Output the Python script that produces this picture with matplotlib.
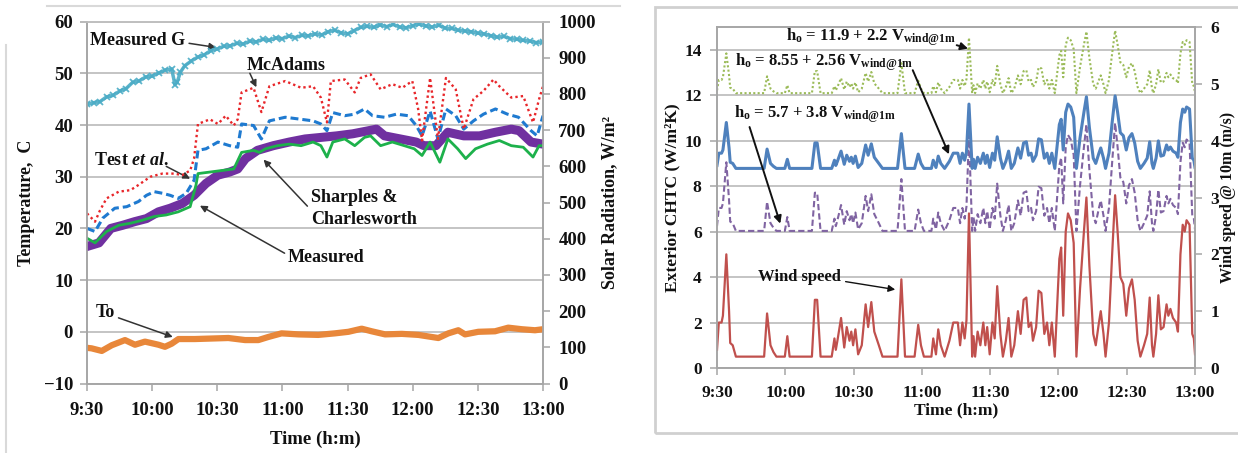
import matplotlib
matplotlib.use("Agg")
import matplotlib.pyplot as plt
from matplotlib.patches import Rectangle
from matplotlib.lines import Line2D

plt.rcParams['font.family'] = ['Liberation Serif', 'DejaVu Serif']
plt.rcParams['font.weight'] = 'bold'
plt.rcParams['axes.labelweight'] = 'bold'
plt.rcParams['mathtext.fontset'] = 'custom'
plt.rcParams['mathtext.rm'] = 'Liberation Serif:bold'
plt.rcParams['mathtext.bf'] = 'Liberation Serif:bold'
plt.rcParams['mathtext.it'] = 'Liberation Serif:italic:bold'

# ---------------- shared time axis (minutes after 9:30) ----------------
time_ticks = [0, 30, 60, 90, 120, 150, 180, 210]
time_labels = ["9:30", "10:00", "10:30", "11:00", "11:30", "12:00", "12:30", "13:00"]

# ---------------- left panel data ----------------
# Measured G (W/m2, right axis)
g_t = [0, 3, 6, 9, 12, 15, 18, 21, 24, 27, 30, 33, 36, 39, 40.5, 41.5, 43,
       45, 48, 51, 54, 57, 60, 63, 66, 69, 72, 75, 78, 81, 84, 87, 90, 93, 96, 99,
       102, 105, 108, 111, 114, 117, 120, 123, 126, 129, 132, 135, 138, 141, 144,
       147, 150, 153, 156, 159, 162, 165, 168, 171, 174, 177, 180, 183, 186, 189,
       192, 195, 198, 201, 204, 207, 210]
g_val = [771, 776, 779, 792, 796, 808, 815, 832, 836, 847, 849, 858, 866, 869,
         826, 832, 860, 878, 891, 902, 908, 920, 924, 932, 933, 940, 938, 946, 944,
         951, 948, 955, 953, 960, 956, 962, 961, 966, 963, 972, 976, 969, 966, 975,
         984, 987, 984, 991, 986, 992, 985, 983, 989, 993, 988, 985, 990, 982, 981,
         976, 974, 972, 968, 966, 961, 957, 959, 953, 951, 948, 946, 942, 944]

# McAdams (red dotted)
mc_t = [0, 3.7, 6, 9, 14.6, 20, 23.7, 29.2, 34.7, 40.2, 43.8, 47.5, 49.3, 51.1,
        56.6, 60.3, 63.9, 67.6, 69.4, 71.2, 76.7, 80.3, 84.0, 91.3, 98.6, 104.1,
        107.7, 110.5, 112.3, 118.7, 123.3, 126.0, 130.6, 135.2, 140.6, 145.2, 149.8,
        152.5, 154.3, 158.0, 161.6, 165.3, 169.8, 173.5, 178.0, 182.6, 187.2, 189.9,
        195.4, 200.9, 205.4, 208.2, 210]
mc_val = [22.9, 21.3, 23.5, 25.8, 27.1, 27.4, 28.4, 30.0, 30.6, 30.6, 30.3, 31.2,
          33.5, 40.2, 41.1, 40.2, 41.8, 39.9, 41.1, 46.3, 47.2, 42.5, 47.5, 48.5,
          47.2, 47.5, 45.3, 40.5, 48.5, 48.8, 46.3, 49.1, 49.8, 46.9, 47.9, 47.2,
          48.5, 43.1, 37.0, 49.1, 37.3, 49.1, 46.9, 39.2, 45.0, 46.6, 48.8, 47.5,
          45.3, 45.6, 40.5, 45.0, 47.5]

# Test et al. (blue dashed)
te_t = [0, 3.7, 7.3, 12.8, 18.3, 23.7, 27.4, 31.0, 34.7, 38.3, 42.0, 45.7, 49.3,
        51.1, 54.8, 60.3, 65.7, 69.4, 71.2, 76.7, 80.3, 84.0, 91.3, 98.6, 104.1,
        107.7, 110.5, 113.2, 118.7, 123.3, 127.8, 131.5, 137.0, 142.5, 147.9, 151.6,
        154.3, 158.0, 161.6, 165.3, 169.8, 173.5, 178.0, 182.6, 188.1, 193.6, 198.7,
        204.5, 207.3, 210]
te_val = [20.0, 19.4, 22.0, 23.9, 24.2, 25.2, 26.4, 27.1, 26.8, 26.4, 25.8, 26.8,
          29.3, 35.1, 35.4, 36.7, 36.0, 35.7, 40.2, 39.9, 37.3, 40.8, 41.5, 41.1,
          40.8, 40.2, 38.9, 42.4, 41.8, 42.1, 43.1, 41.8, 41.5, 42.1, 41.8, 39.9,
          37.9, 42.7, 37.3, 43.1, 41.8, 39.2, 40.8, 42.1, 43.1, 42.1, 41.5, 38.9,
          37.9, 41.8]

# Sharples & Charlesworth (green)
sc_t = [0, 3.7, 9, 14.6, 20, 25.6, 31, 36.5, 42, 47.5, 50.2, 51.1, 56.6, 62.1,
        67.6, 71.2, 76.7, 79.4, 82.2, 87.7, 93.1, 98.6, 104.1, 107.7, 110.5, 113.2,
        118.7, 123.3, 127.8, 130.6, 135.2, 140.6, 146.1, 150.7, 154.3, 158.0, 162.5,
        166.2, 170.7, 174.4, 178.9, 184.4, 189.9, 195.4, 200.9, 205.4, 208.2, 210]
sc_val = [18.1, 17.2, 19.4, 20.6, 21.0, 21.6, 22.3, 22.6, 23.2, 24.2, 28.4, 30.6,
          30.9, 31.2, 31.5, 34.7, 35.1, 34.7, 35.4, 36.0, 36.3, 36.0, 36.7, 36.0,
          33.8, 36.7, 37.3, 36.0, 37.6, 37.9, 36.0, 36.7, 36.0, 35.4, 34.1, 36.7,
          32.8, 37.3, 35.4, 33.5, 35.4, 36.3, 37.0, 36.0, 35.7, 33.8, 36.0, 36.0]

# Measured (purple, thick)
me_t = [0, 5.5, 11, 16.4, 21.9, 27.4, 32.9, 38.3, 43.8, 49.3, 54.8, 60.3, 65.7,
        69.4, 73.0, 78.5, 85.8, 93.1, 100.4, 107.7, 115.0, 122.4, 129.7, 133.3,
        137.0, 144.3, 151.6, 155.2, 160.7, 166.2, 173.5, 180.8, 188.1, 195.4, 199.0,
        204.5, 210]
me_val = [16.5, 17.2, 20.0, 20.6, 21.3, 21.9, 23.2, 23.9, 24.8, 26.4, 28.7, 30.3,
          30.9, 31.5, 33.5, 35.1, 36.0, 36.7, 37.3, 37.6, 37.9, 38.3, 38.9, 39.2,
          37.9, 37.3, 36.7, 36.0, 36.0, 38.6, 37.9, 37.9, 38.6, 39.2, 38.9, 36.7,
          36.3]

# To (orange, thick)
to_t = [0, 2.1, 6.8, 11.4, 17.5, 22.1, 26.7, 32.9, 35.9, 39.0, 42.1, 49.7, 57.4,
        65.1, 72.8, 78.9, 83.5, 89.6, 97.3, 106.5, 114.2, 120.4, 126.5, 131.1,
        137.3, 145.0, 152.6, 161.8, 166.4, 171.0, 174.1, 180.2, 187.9, 194.0,
        200.2, 206.3, 210]
to_val = [-3.1, -3.2, -3.7, -2.6, -1.6, -2.5, -1.9, -2.5, -2.9, -2.3, -1.4, -1.4,
          -1.3, -1.2, -1.6, -1.6, -1.0, -0.3, -0.5, -0.6, -0.3, 0.0, 0.6, 0.1,
          -0.5, -0.4, -0.6, -1.2, -0.3, 0.3, -0.5, 0.0, 0.1, 0.8, 0.5, 0.3, 0.5]

# ---------------- right panel data ----------------
w_t = [0, 0.8, 2.0, 2.6, 4.1, 5.3, 5.8, 6.9, 8.3, 20.7,
       22.0, 23.5, 24.8, 26.1, 29.8, 30.9, 31.9, 41.7, 43.0, 44.0,
       45.5, 50.4, 51.6, 52.2, 52.9, 54.5, 55.9, 57.0, 58.2, 59.0,
       59.8, 60.8, 62.0, 63.6, 65.3, 66.4, 67.8, 69.1, 71.1, 72.7,
       79.3, 81.0, 82.6, 86.8, 88.4, 89.6, 90.9, 94.2, 95.0, 96.2,
       97.2, 98.3, 100.0, 102.1, 103.8, 105.8, 106.8, 107.8, 108.8, 109.6,
       110.7, 112.1, 112.7, 113.4, 114.5, 115.7, 117.0, 117.9, 118.7, 119.8,
       121.0, 122.0, 123.1, 124.5, 125.6, 126.9, 128.1, 129.3, 130.6, 132.2,
       133.4, 134.7, 135.9, 136.9, 138.0, 138.8, 140.2, 141.3, 142.5, 143.8,
       145.0, 146.0, 147.1, 148.4, 150.4, 151.2, 152.1, 153.2, 154.2, 155.4,
       156.7, 157.9, 159.5, 161.2, 162.3, 163.6, 165.3, 166.4, 167.8, 168.6,
       169.8, 170.7, 172.2, 173.6, 174.9, 176.0, 177.2, 178.5, 179.8, 181.0,
       182.3, 183.5, 184.8, 186.0, 187.6, 189.0, 190.1, 191.1, 191.7, 192.9,
       193.9, 195.0, 196.2, 197.5, 198.3, 199.2, 200.3, 201.7, 202.5, 203.6,
       204.6, 205.5, 206.3, 207.6, 208.8, 209.5, 210.0]

# wind speed @ 10 m (m/s, right axis)
wind = [0.32, 0.80, 0.80, 0.92, 2.00, 1.00, 0.44, 0.40, 0.20, 0.20,
        0.96, 0.40, 0.28, 0.20, 0.20, 0.56, 0.20, 0.20, 1.20, 1.20,
        0.20, 0.20, 0.52, 0.32, 0.48, 0.88, 0.36, 0.72, 0.48, 0.64,
        0.40, 0.68, 0.24, 0.40, 1.12, 0.72, 1.16, 0.64, 0.40, 0.20,
        0.20, 1.56, 0.20, 0.20, 0.76, 0.40, 0.20, 0.20, 0.52, 0.24,
        0.68, 0.40, 0.20, 0.48, 0.80, 0.80, 0.40, 0.80, 0.52, 0.84,
        2.72, 0.20, 0.56, 0.20, 0.64, 0.40, 0.80, 0.40, 0.72, 0.24,
        0.80, 0.52, 1.44, 0.60, 0.20, 0.48, 0.88, 0.20, 0.40, 1.00,
        0.60, 1.20, 1.24, 0.72, 0.80, 0.48, 0.72, 1.36, 1.32, 0.60,
        0.80, 0.40, 0.80, 0.20, 1.92, 2.12, 0.92, 2.40, 2.72, 2.60,
        2.20, 0.20, 1.40, 2.40, 3.00, 1.80, 0.60, 0.40, 0.80, 1.00,
        0.60, 0.20, 0.80, 2.00, 3.04, 2.40, 1.60, 1.48, 0.92, 1.40,
        1.56, 1.20, 0.48, 0.20, 0.40, 0.60, 1.24, 0.40, 0.20, 0.60,
        1.28, 0.68, 0.72, 1.12, 0.92, 1.04, 0.88, 0.80, 0.64, 2.00,
        2.52, 2.40, 2.60, 2.52, 0.60, 0.52, 0.24]

# h_o = 8.55 + 2.56 V (blue)
h_blue = [8.91, 9.45, 9.45, 9.59, 10.80, 9.68, 9.05, 9.00, 8.78, 8.78,
          9.63, 9.00, 8.87, 8.78, 8.78, 9.18, 8.78, 8.78, 9.90, 9.90,
          8.78, 8.78, 9.14, 8.91, 9.09, 9.54, 8.96, 9.36, 9.09, 9.27,
          9.00, 9.32, 8.82, 9.00, 9.81, 9.36, 9.86, 9.27, 9.00, 8.78,
          8.78, 10.31, 8.78, 8.78, 9.41, 9.00, 8.78, 8.78, 9.14, 8.82,
          9.32, 9.00, 8.78, 9.09, 9.45, 9.45, 9.00, 9.45, 9.14, 9.50,
          11.61, 8.78, 9.18, 8.78, 9.27, 9.00, 9.45, 9.00, 9.36, 8.82,
          9.45, 9.14, 10.17, 9.23, 8.78, 9.09, 9.54, 8.78, 9.00, 9.68,
          9.23, 9.90, 9.95, 9.36, 9.45, 9.09, 9.36, 10.08, 10.04, 9.23,
          9.45, 9.00, 9.45, 8.78, 10.71, 10.94, 9.59, 11.25, 11.61, 11.48,
          11.03, 8.78, 10.13, 11.25, 11.93, 10.58, 9.23, 9.00, 9.45, 9.68,
          9.23, 8.78, 9.45, 10.80, 11.97, 11.25, 10.35, 10.22, 9.59, 10.13,
          10.31, 9.90, 9.09, 8.78, 9.00, 9.23, 9.95, 9.00, 8.78, 9.23,
          9.99, 9.32, 9.36, 9.81, 9.59, 9.72, 9.54, 9.45, 9.27, 10.80,
          11.39, 11.25, 11.48, 11.39, 9.23, 9.14, 8.82]

# h_o = 11.9 + 2.2 V (green dotted)
h_green = [12.21, 12.67, 12.67, 12.79, 13.84, 12.87, 12.33, 12.29, 12.09, 12.09,
           12.83, 12.29, 12.17, 12.09, 12.09, 12.44, 12.09, 12.09, 13.06, 13.06,
           12.09, 12.09, 12.40, 12.21, 12.36, 12.75, 12.25, 12.60, 12.36, 12.52,
           12.29, 12.56, 12.13, 12.29, 12.98, 12.60, 13.02, 12.52, 12.29, 12.09,
           12.09, 13.41, 12.09, 12.09, 12.64, 12.29, 12.09, 12.09, 12.40, 12.13,
           12.56, 12.29, 12.09, 12.36, 12.67, 12.67, 12.29, 12.67, 12.40, 12.71,
           14.53, 12.09, 12.44, 12.09, 12.52, 12.29, 12.67, 12.29, 12.60, 12.13,
           12.67, 12.40, 13.29, 12.48, 12.09, 12.36, 12.75, 12.09, 12.29, 12.87,
           12.48, 13.06, 13.10, 12.60, 12.67, 12.36, 12.60, 13.22, 13.18, 12.48,
           12.67, 12.29, 12.67, 12.09, 13.76, 13.95, 12.79, 14.22, 14.53, 14.42,
           14.03, 12.09, 13.25, 14.22, 14.80, 13.64, 12.48, 12.29, 12.67, 12.87,
           12.48, 12.09, 12.67, 13.84, 14.84, 14.22, 13.45, 13.33, 12.79, 13.25,
           13.41, 13.06, 12.36, 12.09, 12.29, 12.48, 13.10, 12.29, 12.09, 12.48,
           13.14, 12.56, 12.60, 12.98, 12.79, 12.91, 12.75, 12.67, 12.52, 13.84,
           14.34, 14.22, 14.42, 14.34, 12.48, 12.40, 12.13]

# h_o = 5.7 + 3.8 V (purple dashed)
h_purple = [6.24, 7.04, 7.04, 7.24, 9.05, 7.37, 6.44, 6.37, 6.03, 6.03,
            7.31, 6.37, 6.17, 6.03, 6.03, 6.64, 6.03, 6.03, 7.71, 7.71,
            6.03, 6.03, 6.57, 6.24, 6.50, 7.17, 6.30, 6.90, 6.50, 6.77,
            6.37, 6.84, 6.10, 6.37, 7.57, 6.90, 7.64, 6.77, 6.37, 6.03,
            6.03, 8.31, 6.03, 6.03, 6.97, 6.37, 6.03, 6.03, 6.57, 6.10,
            6.84, 6.37, 6.03, 6.50, 7.04, 7.04, 6.37, 7.04, 6.57, 7.10,
            10.25, 6.03, 6.64, 6.03, 6.77, 6.37, 7.04, 6.37, 6.90, 6.10,
            7.04, 6.57, 8.11, 6.70, 6.03, 6.50, 7.17, 6.03, 6.37, 7.37,
            6.70, 7.71, 7.77, 6.90, 7.04, 6.50, 6.90, 7.97, 7.91, 6.70,
            7.04, 6.37, 7.04, 6.03, 8.91, 9.25, 7.24, 9.71, 10.25, 10.05,
            9.38, 6.03, 8.04, 9.71, 10.72, 8.71, 6.70, 6.37, 7.04, 7.37,
            6.70, 6.03, 7.04, 9.05, 10.78, 9.71, 8.38, 8.18, 7.24, 8.04,
            8.31, 7.71, 6.50, 6.03, 6.37, 6.70, 7.77, 6.37, 6.03, 6.70,
            7.84, 6.84, 6.90, 7.57, 7.24, 7.44, 7.17, 7.04, 6.77, 9.05,
            9.91, 9.71, 10.05, 9.91, 6.70, 6.57, 6.10]

# ---------------- figure ----------------
W, H = 1238, 453
fig = plt.figure(figsize=(W / 100, H / 100), dpi=100)

def ax_rect(x0, x1, ytop, ybot):
    return [x0 / W, 1 - ybot / H, (x1 - x0) / W, (ybot - ytop) / H]

GRID = '#BFBFBF'
SPINE = '#A6A6A6'
TXT = '#111111'

# decorative frame fragments
fig.add_artist(Line2D([47 / W, 620 / W], [1 - 6 / H, 1 - 6 / H], color='#D9D9D9', lw=1.5))
fig.add_artist(Line2D([6 / W, 6 / W], [1 - 45 / H, 0], color='#D9D9D9', lw=1.5))
fig.add_artist(Rectangle((655 / W, 1 - 433 / H), 1.0, (433 - 7) / H, fill=False,
                         ec='#D0D0D0', lw=2))

# ---------- left panel ----------
ax1 = fig.add_axes(ax_rect(87, 543, 21.6, 383.5))
ax1r = ax1.twinx()
ax1.set_xlim(0, 210)
ax1.set_ylim(-10, 60)
ax1r.set_ylim(0, 1000)
ax1.set_yticks(range(-10, 61, 10))
ax1r.set_yticks(range(0, 1001, 100))
ax1.set_xticks(time_ticks)
ax1.set_xticklabels(time_labels)
ax1.yaxis.grid(True, color=GRID, lw=1.3)
ax1.set_axisbelow(True)
for a in (ax1, ax1r):
    for s in a.spines.values():
        s.set_color(SPINE)
        s.set_linewidth(1.2)
    a.spines['top'].set_color(GRID)
    a.tick_params(colors=SPINE, labelcolor=TXT, labelsize=13.5, length=5, width=1.1)
ax1.tick_params(axis='x', pad=8)
ax1.tick_params(axis='y', pad=5)
ax1r.tick_params(axis='y', pad=6)

ax1.plot(to_t, to_val, color='#E8873A', lw=4.5, solid_capstyle='butt', zorder=3)
ax1.plot(me_t, me_val, color='#7030A0', lw=6.5, zorder=3)
ax1.plot(sc_t, sc_val, color='#1DB14B', lw=2.0, zorder=4)
ax1.plot(te_t, te_val, color='#1F7AD0', lw=2.2, ls=(0, (2.6, 1.3)), zorder=5)
ax1.plot(mc_t, mc_val, color='#E8262A', lw=1.7, ls=(0, (1, 1.3)), zorder=6)
ax1r.plot(g_t, g_val, color='#4BACC6', lw=2.5, marker='x', ms=4.5, mew=1.3, alpha=0.9)

ax1.set_xlabel('Time (h:m)', fontsize=13.5, labelpad=9, color=TXT)
ax1.set_ylabel('Temperature,  C', fontsize=13, labelpad=6, color=TXT)
ax1r.set_ylabel('Solar Radiation, W/m²', fontsize=13, labelpad=4, color=TXT)

afs = 13
arrow_l = dict(arrowstyle='-|>', color='#333333', lw=1.1, mutation_scale=10,
               shrinkA=0, shrinkB=0)
ax1.text(1.6, 56.3, 'Measured G', fontsize=afs, color=TXT, va='center', ha='left')
ax1.annotate('', xy=(59.5, 55.0), xytext=(47.0, 55.8), arrowprops=arrow_l)
ax1.text(73.5, 51.6, 'McAdams', fontsize=afs, color=TXT, va='center', ha='left')
ax1.annotate('', xy=(78.0, 47.3), xytext=(75.0, 50.0), arrowprops=arrow_l)
ax1.text(3.0, 33.2, r'Test $\mathit{et\ al.}$', fontsize=afs, color=TXT, va='center', ha='left')
ax1.annotate('', xy=(47.5, 29.6), xytext=(36.5, 32.0), arrowprops=arrow_l)
ax1.text(103.0, 26.0, 'Sharples &', fontsize=afs, color=TXT, va='center', ha='left')
ax1.text(103.0, 21.8, 'Charlesworth', fontsize=afs, color=TXT, va='center', ha='left')
ax1.annotate('', xy=(81.3, 33.3), xytext=(101.5, 24.3), arrowprops=arrow_l)
ax1.text(92.5, 14.4, 'Measured', fontsize=afs, color=TXT, va='center', ha='left')
ax1.annotate('', xy=(52.0, 24.4), xytext=(91.0, 15.2), arrowprops=arrow_l)
ax1.text(3.8, 3.8, 'To', fontsize=afs, color=TXT, va='center', ha='left')
ax1.annotate('', xy=(39.5, -1.0), xytext=(14.5, 2.7), arrowprops=arrow_l)

# ---------- right panel ----------
ax2 = fig.add_axes(ax_rect(717, 1195, 27, 368))
ax2r = ax2.twinx()
ax2.set_xlim(0, 210)
ax2.set_ylim(0, 15)
ax2r.set_ylim(0, 6)
ax2.set_yticks(range(0, 15, 2))
ax2r.set_yticks(range(0, 7))
ax2.set_xticks(time_ticks)
ax2.set_xticklabels(time_labels)
ax2.yaxis.grid(True, color=GRID, lw=1.3)
ax2.set_axisbelow(True)
for a in (ax2, ax2r):
    for s in a.spines.values():
        s.set_color(SPINE)
        s.set_linewidth(1.2)
    a.tick_params(colors=SPINE, labelcolor=TXT, labelsize=12.5, length=5, width=1.1)
ax2.tick_params(axis='x', pad=7)
ax2.tick_params(axis='y', pad=6)
ax2r.tick_params(axis='y', pad=6)

ax2.plot(w_t, h_green, color='#9BBB59', lw=1.5, ls=(0, (1, 1.1)))
ax2.plot(w_t, h_purple, color='#8064A2', lw=1.5, ls=(0, (3, 1.5)))
ax2.plot(w_t, h_blue, color='#4F81BD', lw=2.2)
ax2r.plot(w_t, wind, color='#C0504D', lw=1.6)

ax2.set_xlabel('Time (h:m)', fontsize=12.5, labelpad=1, color=TXT)
ax2.set_ylabel('Exterior CHTC (W/m²K)', fontsize=12.5, labelpad=3, color=TXT)
ax2r.set_ylabel('Wind speed @ 10m (m/s)', fontsize=11.5, labelpad=1, color=TXT)

rfs = 12
arrow_r = dict(arrowstyle='-|>', color='#111111', lw=1.4, mutation_scale=11,
               shrinkA=0, shrinkB=0)
ax2.text(30.5, 14.55, r'h$_{\rm o}$ = 11.9 + 2.2 V$_{\rm wind@1m}$', fontsize=rfs,
         color=TXT, va='center', ha='left')
ax2.annotate('', xy=(110.3, 14.05), xytext=(105.3, 14.2), arrowprops=arrow_r)
ax2.text(8.0, 13.45, r'h$_{\rm o}$ = 8.55 + 2.56 V$_{\rm wind@1m}$', fontsize=rfs,
         color=TXT, va='center', ha='left')
ax2.annotate('', xy=(101.9, 9.4), xytext=(86.0, 13.1), arrowprops=arrow_r)
ax2.text(7.3, 11.15, r'h$_{\rm o}$ = 5.7 + 3.8 V$_{\rm wind@1m}$', fontsize=rfs,
         color=TXT, va='center', ha='left')
ax2.annotate('', xy=(27.8, 6.35), xytext=(14.3, 10.6), arrowprops=arrow_r)
ax2.text(18.0, 4.0, 'Wind speed', fontsize=rfs, color=TXT, va='center', ha='left')
ax2.annotate('', xy=(78.3, 3.45), xytext=(56.5, 3.8),
             arrowprops=dict(arrowstyle='-|>', color='#111111', lw=1.0,
                             mutation_scale=10, shrinkA=0, shrinkB=0))

fig.savefig('out.png', dpi=100)
